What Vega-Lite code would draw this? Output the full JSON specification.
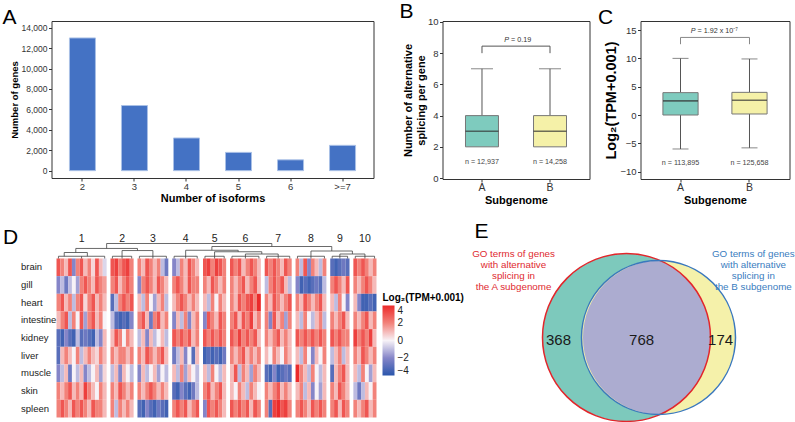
{
"$schema": "https://vega.github.io/schema/vega-lite/v6.json",
"padding": {"left": 1.5, "top": 0, "right": 0, "bottom": 0},
"background": "white",
"config": {
  "font": "Liberation Sans",
  "view": {"stroke": "#333", "strokeWidth": 1},
  "axis": {"grid": false, "domain": false, "tickSize": 3, "tickColor": "#333", "labelColor": "#333", "titleColor": "#000", "titleFontWeight": "bold", "labelPadding": 1.5, "titlePadding": 2, "labelOverlap": false},
  "title": {"fontSize": 21, "fontWeight": "normal", "anchor": "start", "frame": "bounds", "baseline": "alphabetic", "color": "#000"}
},
"spacing": 14.5,
"vconcat": [
{
"bounds": "flush",
"spacing": 69,
"hconcat": [
{
  "width": 322, "height": 157,
  "title": {"text": "A", "offset": -7, "dx": -6.5},
  "data": {"values": [
    {"iso": "2", "genes": 13000}, {"iso": "3", "genes": 6380}, {"iso": "4", "genes": 3200},
    {"iso": "5", "genes": 1790}, {"iso": "6", "genes": 1060}, {"iso": ">=7", "genes": 2480}
  ]},
  "mark": {"type": "bar", "fill": "#4472C4", "stroke": "#A9C0E6", "strokeWidth": 1},
  "encoding": {
    "x": {"field": "iso", "type": "ordinal", "sort": null, "scale": {"paddingInner": 0.5, "paddingOuter": 0.345},
          "axis": {"title": "Number of isoforms", "labelAngle": 0, "labelFontSize": 9.5, "labelPadding": 0.5, "titleFontSize": 11, "titlePadding": 1}},
    "y": {"field": "genes", "type": "quantitative", "scale": {"domain": [-720, 14660], "nice": false, "zero": false},
          "axis": {"title": "Number of genes", "values": [0, 2000, 4000, 6000, 8000, 10000, 12000, 14000], "format": ",.0f", "labelFontSize": 8.5, "titleFontSize": 9.5, "labelOverlap": false}}
  }
},
{
"bounds": "flush",
"spacing": 51,
"hconcat": [
{
  "width": 147, "height": 158,
  "title": {"text": "B", "offset": -5, "dx": -3},
  "resolve": {"axis": {"y": "independent"}},
  "data": {"values": [
    {"g": "A", "lo": 2, "q1": 2, "med": 3, "q3": 4, "hi": 7, "n": "n = 12,937"},
    {"g": "B", "lo": 2, "q1": 2, "med": 3, "q3": 4, "hi": 7, "n": "n = 14,258"}
  ]},
  "encoding": {
    "x": {"field": "g", "type": "nominal", "scale": {"domain": ["A", "B"], "paddingInner": 0.515, "paddingOuter": 0.338},
          "axis": {"title": "Subgenome", "labelAngle": 0, "labelFontSize": 10.5, "labelPadding": 0.5, "titleFontSize": 11, "titlePadding": 1}}
  },
  "layer": [
    {"mark": {"type": "rule", "color": "#555"}, "encoding": {"y": {"field": "hi", "type": "quantitative", "scale": {"domain": [-0.06, 10.06], "nice": false, "zero": false},
       "axis": {"title": ["Number of alternative", "splicing per gene"], "values": [0, 2, 4, 6, 8, 10], "labelOverlap": false, "labelFontSize": 9.5, "titleFontSize": 11, "titlePadding": 1}}, "y2": {"field": "q3"}}},
    {"mark": {"type": "rule", "color": "#555"}, "encoding": {"y": {"field": "q1", "type": "quantitative", "axis": null}, "y2": {"field": "lo"}}},
    {"mark": {"type": "tick", "color": "#555", "size": 22, "thickness": 1}, "encoding": {"y": {"field": "hi", "type": "quantitative", "axis": null}}},
    {"mark": {"type": "bar", "stroke": "#777", "strokeWidth": 1}, "encoding": {"y": {"field": "q1", "type": "quantitative", "axis": null}, "y2": {"field": "q3"},
       "color": {"field": "g", "type": "nominal", "scale": {"domain": ["A", "B"], "range": ["#7ECBBE", "#F5F1A8"]}, "legend": null}}},
    {"mark": {"type": "tick", "color": "#333", "size": 33, "thickness": 1.6}, "encoding": {"y": {"field": "med", "type": "quantitative", "axis": null}}},
    {"mark": {"type": "text", "fontSize": 7.2, "color": "#444"}, "encoding": {"y": {"datum": 1.0, "type": "quantitative", "axis": null}, "text": {"field": "n"}}},
    {"mark": {"type": "rule", "color": "#555"}, "encoding": {"y": {"datum": 8.45, "type": "quantitative", "axis": null}, "y2": {"datum": 8.0}}},
    {"data": {"values": [{"a": "A", "b": "B", "p": "P", "rest": "= 0.19"}]},
     "layer": [
      {"mark": {"type": "rule", "color": "#555"}, "encoding": {"x": {"field": "a", "type": "nominal", "bandPosition": 0.5}, "x2": {"field": "b", "bandPosition": 0.5}, "y": {"datum": 8.45, "type": "quantitative", "axis": null}}},
      {"mark": {"type": "text", "fontSize": 7.2, "fontStyle": "italic", "align": "right", "dx": 27, "color": "#333"}, "encoding": {"x": {"field": "a", "type": "nominal"}, "y": {"datum": 8.85, "type": "quantitative", "axis": null}, "text": {"field": "p"}}},
      {"mark": {"type": "text", "fontSize": 7.2, "align": "left", "dx": 29, "color": "#333"}, "encoding": {"x": {"field": "a", "type": "nominal"}, "y": {"datum": 8.85, "type": "quantitative", "axis": null}, "text": {"field": "rest"}}}
     ]}
  ]
},
{
  "width": 149, "height": 158,
  "title": {"text": "C", "offset": -7, "dx": -6},
  "resolve": {"axis": {"y": "independent"}},
  "data": {"values": [
    {"g": "A", "lo": -6.0, "q1": 0, "med": 2.5, "q3": 3.95, "hi": 10.0, "n": "n = 113,895"},
    {"g": "B", "lo": -5.8, "q1": 0.18, "med": 2.6, "q3": 4.0, "hi": 9.9, "n": "n = 125,658"}
  ]},
  "encoding": {
    "x": {"field": "g", "type": "nominal", "scale": {"domain": ["A", "B"], "paddingInner": 0.49, "paddingOuter": 0.325},
          "axis": {"title": "Subgenome", "labelAngle": 0, "labelFontSize": 10.5, "labelPadding": 0.5, "titleFontSize": 11, "titlePadding": 1}}
  },
  "layer": [
    {"mark": {"type": "rule", "color": "#555"}, "encoding": {"y": {"field": "hi", "type": "quantitative", "scale": {"domain": [-11.3, 16.6], "nice": false, "zero": false},
       "axis": {"title": "Log₂(TPM+0.001)", "values": [-10, -5, 0, 5, 10, 15], "labelOverlap": false, "labelFontSize": 9.5, "titleFontSize": 14.5, "titlePadding": 1}}, "y2": {"field": "q3"}}},
    {"mark": {"type": "rule", "color": "#555"}, "encoding": {"y": {"field": "q1", "type": "quantitative", "axis": null}, "y2": {"field": "lo"}}},
    {"mark": {"type": "tick", "color": "#555", "size": 16, "thickness": 1}, "encoding": {"y": {"field": "hi", "type": "quantitative", "axis": null}}},
    {"mark": {"type": "tick", "color": "#555", "size": 16, "thickness": 1}, "encoding": {"y": {"field": "lo", "type": "quantitative", "axis": null}}},
    {"mark": {"type": "bar", "stroke": "#777", "strokeWidth": 1}, "encoding": {"y": {"field": "q1", "type": "quantitative", "axis": null}, "y2": {"field": "q3"},
       "color": {"field": "g", "type": "nominal", "scale": {"domain": ["A", "B"], "range": ["#7ECBBE", "#F5F1A8"]}, "legend": null}}},
    {"mark": {"type": "tick", "color": "#333", "size": 35, "thickness": 1.6}, "encoding": {"y": {"field": "med", "type": "quantitative", "axis": null}}},
    {"mark": {"type": "text", "fontSize": 7.2, "color": "#444"}, "encoding": {"y": {"datum": -8.4, "type": "quantitative", "axis": null}, "text": {"field": "n"}}},
    {"mark": {"type": "rule", "color": "#888"}, "encoding": {"y": {"datum": 13.7, "type": "quantitative", "axis": null}, "y2": {"datum": 12.5}}},
    {"data": {"values": [{"a": "A", "b": "B", "p": "P", "rest": "= 1.92 x 10⁻⁷"}]},
     "layer": [
      {"mark": {"type": "rule", "color": "#888"}, "encoding": {"x": {"field": "a", "type": "nominal", "bandPosition": 0.5}, "x2": {"field": "b", "bandPosition": 0.5}, "y": {"datum": 13.7, "type": "quantitative", "axis": null}}},
      {"mark": {"type": "text", "fontSize": 7.2, "fontStyle": "italic", "align": "right", "dx": 15, "color": "#333"}, "encoding": {"x": {"field": "a", "type": "nominal"}, "y": {"datum": 14.8, "type": "quantitative", "axis": null}, "text": {"field": "p"}}},
      {"mark": {"type": "text", "fontSize": 7.2, "align": "left", "dx": 17, "color": "#333"}, "encoding": {"x": {"field": "a", "type": "nominal"}, "y": {"datum": 14.8, "type": "quantitative", "axis": null}, "text": {"field": "rest"}}}
     ]}
  ]
}
]
}
]
},
{
"bounds": "flush",
"spacing": 90,
"hconcat": [
{
  "width": 325, "height": 186,
  "view": {"stroke": null},
  "title": {"text": "D", "offset": -16, "dx": -17.5},
  "resolve": {"scale": {"x": "independent", "y": "independent"}},
  "layer": [
    {
      "data": {"values": [
{"c":"1a","t":"brain","v":3},{"c":"1b","t":"brain","v":2},{"c":"1c","t":"brain","v":1},{"c":"1d","t":"brain","v":3},{"c":"1e","t":"brain","v":-2},{"c":"1f","t":"brain","v":2},{"c":"1g","t":"brain","v":3},{"c":"1h","t":"brain","v":1},{"c":"1i","t":"brain","v":2},{"c":"1j","t":"brain","v":0.5},{"c":"1k","t":"brain","v":3},{"c":"1l","t":"brain","v":1},{"c":"1m","t":"brain","v":-0.5},
{"c":"1a","t":"gill","v":-2},{"c":"1b","t":"gill","v":-1},{"c":"1c","t":"gill","v":-2.5},{"c":"1d","t":"gill","v":-1},{"c":"1e","t":"gill","v":0},{"c":"1f","t":"gill","v":-1.5},{"c":"1g","t":"gill","v":2},{"c":"1h","t":"gill","v":3},{"c":"1i","t":"gill","v":2},{"c":"1j","t":"gill","v":1},{"c":"1k","t":"gill","v":3},{"c":"1l","t":"gill","v":2},{"c":"1m","t":"gill","v":1.5},
{"c":"1a","t":"heart","v":2},{"c":"1b","t":"heart","v":3},{"c":"1c","t":"heart","v":1},{"c":"1d","t":"heart","v":2},{"c":"1e","t":"heart","v":-1},{"c":"1f","t":"heart","v":2},{"c":"1g","t":"heart","v":3},{"c":"1h","t":"heart","v":0.5},{"c":"1i","t":"heart","v":2},{"c":"1j","t":"heart","v":3},{"c":"1k","t":"heart","v":1},{"c":"1l","t":"heart","v":2},{"c":"1m","t":"heart","v":1},
{"c":"1a","t":"intestine","v":1},{"c":"1b","t":"intestine","v":2},{"c":"1c","t":"intestine","v":3},{"c":"1d","t":"intestine","v":-1},{"c":"1e","t":"intestine","v":2},{"c":"1f","t":"intestine","v":0},{"c":"1g","t":"intestine","v":3},{"c":"1h","t":"intestine","v":-1.5},{"c":"1i","t":"intestine","v":2},{"c":"1j","t":"intestine","v":3},{"c":"1k","t":"intestine","v":1},{"c":"1l","t":"intestine","v":2},{"c":"1m","t":"intestine","v":0},
{"c":"1a","t":"kidney","v":-3},{"c":"1b","t":"kidney","v":-3.5},{"c":"1c","t":"kidney","v":-2},{"c":"1d","t":"kidney","v":-3},{"c":"1e","t":"kidney","v":-3.5},{"c":"1f","t":"kidney","v":-1},{"c":"1g","t":"kidney","v":-3},{"c":"1h","t":"kidney","v":-2.5},{"c":"1i","t":"kidney","v":-3},{"c":"1j","t":"kidney","v":-3.5},{"c":"1k","t":"kidney","v":-1},{"c":"1l","t":"kidney","v":-2},{"c":"1m","t":"kidney","v":1},
{"c":"1a","t":"liver","v":-3},{"c":"1b","t":"liver","v":1},{"c":"1c","t":"liver","v":2},{"c":"1d","t":"liver","v":1},{"c":"1e","t":"liver","v":0},{"c":"1f","t":"liver","v":2},{"c":"1g","t":"liver","v":-1},{"c":"1h","t":"liver","v":1},{"c":"1i","t":"liver","v":2},{"c":"1j","t":"liver","v":1},{"c":"1k","t":"liver","v":0.5},{"c":"1l","t":"liver","v":2},{"c":"1m","t":"liver","v":1},
{"c":"1a","t":"muscle","v":-2},{"c":"1b","t":"muscle","v":-1},{"c":"1c","t":"muscle","v":1},{"c":"1d","t":"muscle","v":-2.5},{"c":"1e","t":"muscle","v":0},{"c":"1f","t":"muscle","v":-1},{"c":"1g","t":"muscle","v":1},{"c":"1h","t":"muscle","v":-2},{"c":"1i","t":"muscle","v":-1},{"c":"1j","t":"muscle","v":0},{"c":"1k","t":"muscle","v":1},{"c":"1l","t":"muscle","v":-1.5},{"c":"1m","t":"muscle","v":0.5},
{"c":"1a","t":"skin","v":2},{"c":"1b","t":"skin","v":1},{"c":"1c","t":"skin","v":2},{"c":"1d","t":"skin","v":3},{"c":"1e","t":"skin","v":1},{"c":"1f","t":"skin","v":2},{"c":"1g","t":"skin","v":1},{"c":"1h","t":"skin","v":3.5},{"c":"1i","t":"skin","v":2},{"c":"1j","t":"skin","v":1},{"c":"1k","t":"skin","v":0},{"c":"1l","t":"skin","v":2},{"c":"1m","t":"skin","v":1},
{"c":"1a","t":"spleen","v":2},{"c":"1b","t":"spleen","v":3},{"c":"1c","t":"spleen","v":2},{"c":"1d","t":"spleen","v":1},{"c":"1e","t":"spleen","v":3},{"c":"1f","t":"spleen","v":2},{"c":"1g","t":"spleen","v":3},{"c":"1h","t":"spleen","v":2},{"c":"1i","t":"spleen","v":1},{"c":"1j","t":"spleen","v":3},{"c":"1k","t":"spleen","v":2},{"c":"1l","t":"spleen","v":2},{"c":"1m","t":"spleen","v":1},
{"c":"2a","t":"brain","v":3},{"c":"2b","t":"brain","v":3.5},{"c":"2c","t":"brain","v":2},{"c":"2d","t":"brain","v":3},{"c":"2e","t":"brain","v":3.5},{"c":"2f","t":"brain","v":2},
{"c":"2a","t":"gill","v":2},{"c":"2b","t":"gill","v":3},{"c":"2c","t":"gill","v":1},{"c":"2d","t":"gill","v":2},{"c":"2e","t":"gill","v":3},{"c":"2f","t":"gill","v":2},
{"c":"2a","t":"heart","v":-3},{"c":"2b","t":"heart","v":-1},{"c":"2c","t":"heart","v":2},{"c":"2d","t":"heart","v":3},{"c":"2e","t":"heart","v":2},{"c":"2f","t":"heart","v":3},
{"c":"2a","t":"intestine","v":-1},{"c":"2b","t":"intestine","v":-3},{"c":"2c","t":"intestine","v":-3.5},{"c":"2d","t":"intestine","v":-3},{"c":"2e","t":"intestine","v":-3.5},{"c":"2f","t":"intestine","v":-2},
{"c":"2a","t":"kidney","v":1},{"c":"2b","t":"kidney","v":3},{"c":"2c","t":"kidney","v":2},{"c":"2d","t":"kidney","v":0},{"c":"2e","t":"kidney","v":2},{"c":"2f","t":"kidney","v":1},
{"c":"2a","t":"liver","v":2},{"c":"2b","t":"liver","v":1},{"c":"2c","t":"liver","v":2},{"c":"2d","t":"liver","v":2},{"c":"2e","t":"liver","v":1},{"c":"2f","t":"liver","v":2},
{"c":"2a","t":"muscle","v":-1},{"c":"2b","t":"muscle","v":1},{"c":"2c","t":"muscle","v":-2},{"c":"2d","t":"muscle","v":1},{"c":"2e","t":"muscle","v":0},{"c":"2f","t":"muscle","v":-1},
{"c":"2a","t":"skin","v":2},{"c":"2b","t":"skin","v":1},{"c":"2c","t":"skin","v":3},{"c":"2d","t":"skin","v":2},{"c":"2e","t":"skin","v":1},{"c":"2f","t":"skin","v":2},
{"c":"2a","t":"spleen","v":2},{"c":"2b","t":"spleen","v":-1},{"c":"2c","t":"spleen","v":2},{"c":"2d","t":"spleen","v":1},{"c":"2e","t":"spleen","v":2},{"c":"2f","t":"spleen","v":1},
{"c":"3a","t":"brain","v":2},{"c":"3b","t":"brain","v":1},{"c":"3c","t":"brain","v":3},{"c":"3d","t":"brain","v":2},{"c":"3e","t":"brain","v":1},{"c":"3f","t":"brain","v":2},{"c":"3g","t":"brain","v":-1},{"c":"3h","t":"brain","v":-2.5},
{"c":"3a","t":"gill","v":-2},{"c":"3b","t":"gill","v":2},{"c":"3c","t":"gill","v":3},{"c":"3d","t":"gill","v":2},{"c":"3e","t":"gill","v":1},{"c":"3f","t":"gill","v":3},{"c":"3g","t":"gill","v":2},{"c":"3h","t":"gill","v":1},
{"c":"3a","t":"heart","v":1},{"c":"3b","t":"heart","v":-1},{"c":"3c","t":"heart","v":2},{"c":"3d","t":"heart","v":0},{"c":"3e","t":"heart","v":-1.5},{"c":"3f","t":"heart","v":1},{"c":"3g","t":"heart","v":2},{"c":"3h","t":"heart","v":-1},
{"c":"3a","t":"intestine","v":2},{"c":"3b","t":"intestine","v":3},{"c":"3c","t":"intestine","v":1},{"c":"3d","t":"intestine","v":-2.5},{"c":"3e","t":"intestine","v":2},{"c":"3f","t":"intestine","v":3},{"c":"3g","t":"intestine","v":1},{"c":"3h","t":"intestine","v":2},
{"c":"3a","t":"kidney","v":-1},{"c":"3b","t":"kidney","v":1},{"c":"3c","t":"kidney","v":-2},{"c":"3d","t":"kidney","v":1},{"c":"3e","t":"kidney","v":-1},{"c":"3f","t":"kidney","v":0},{"c":"3g","t":"kidney","v":1},{"c":"3h","t":"kidney","v":-1},
{"c":"3a","t":"liver","v":2},{"c":"3b","t":"liver","v":1},{"c":"3c","t":"liver","v":3},{"c":"3d","t":"liver","v":2},{"c":"3e","t":"liver","v":1},{"c":"3f","t":"liver","v":2},{"c":"3g","t":"liver","v":3},{"c":"3h","t":"liver","v":1},
{"c":"3a","t":"muscle","v":-2},{"c":"3b","t":"muscle","v":1},{"c":"3c","t":"muscle","v":-1},{"c":"3d","t":"muscle","v":0},{"c":"3e","t":"muscle","v":1},{"c":"3f","t":"muscle","v":-1.5},{"c":"3g","t":"muscle","v":0},{"c":"3h","t":"muscle","v":-1},
{"c":"3a","t":"skin","v":2},{"c":"3b","t":"skin","v":1},{"c":"3c","t":"skin","v":2},{"c":"3d","t":"skin","v":3},{"c":"3e","t":"skin","v":2},{"c":"3f","t":"skin","v":1},{"c":"3g","t":"skin","v":2},{"c":"3h","t":"skin","v":1},
{"c":"3a","t":"spleen","v":-3},{"c":"3b","t":"spleen","v":-3.5},{"c":"3c","t":"spleen","v":-2},{"c":"3d","t":"spleen","v":-3},{"c":"3e","t":"spleen","v":-3.5},{"c":"3f","t":"spleen","v":-2.5},{"c":"3g","t":"spleen","v":-3},{"c":"3h","t":"spleen","v":-3.5},
{"c":"4a","t":"brain","v":-2},{"c":"4b","t":"brain","v":-1},{"c":"4c","t":"brain","v":2},{"c":"4d","t":"brain","v":1},{"c":"4e","t":"brain","v":3},{"c":"4f","t":"brain","v":2},{"c":"4g","t":"brain","v":1},
{"c":"4a","t":"gill","v":2},{"c":"4b","t":"gill","v":3},{"c":"4c","t":"gill","v":2},{"c":"4d","t":"gill","v":1},{"c":"4e","t":"gill","v":3},{"c":"4f","t":"gill","v":2},{"c":"4g","t":"gill","v":2},
{"c":"4a","t":"heart","v":1},{"c":"4b","t":"heart","v":2},{"c":"4c","t":"heart","v":3},{"c":"4d","t":"heart","v":2},{"c":"4e","t":"heart","v":1},{"c":"4f","t":"heart","v":2},{"c":"4g","t":"heart","v":1},
{"c":"4a","t":"intestine","v":-2},{"c":"4b","t":"intestine","v":1},{"c":"4c","t":"intestine","v":-1},{"c":"4d","t":"intestine","v":2},{"c":"4e","t":"intestine","v":-2},{"c":"4f","t":"intestine","v":1},{"c":"4g","t":"intestine","v":2},
{"c":"4a","t":"kidney","v":3},{"c":"4b","t":"kidney","v":2},{"c":"4c","t":"kidney","v":3},{"c":"4d","t":"kidney","v":2},{"c":"4e","t":"kidney","v":3},{"c":"4f","t":"kidney","v":1},{"c":"4g","t":"kidney","v":2},
{"c":"4a","t":"liver","v":-2.5},{"c":"4b","t":"liver","v":-1},{"c":"4c","t":"liver","v":1},{"c":"4d","t":"liver","v":-2},{"c":"4e","t":"liver","v":0},{"c":"4f","t":"liver","v":-3},{"c":"4g","t":"liver","v":1},
{"c":"4a","t":"muscle","v":1},{"c":"4b","t":"muscle","v":-1},{"c":"4c","t":"muscle","v":2},{"c":"4d","t":"muscle","v":-1.5},{"c":"4e","t":"muscle","v":1},{"c":"4f","t":"muscle","v":0},{"c":"4g","t":"muscle","v":-1},
{"c":"4a","t":"skin","v":-3},{"c":"4b","t":"skin","v":-3.5},{"c":"4c","t":"skin","v":-2},{"c":"4d","t":"skin","v":-3},{"c":"4e","t":"skin","v":-3.5},{"c":"4f","t":"skin","v":-2.5},{"c":"4g","t":"skin","v":-1},
{"c":"4a","t":"spleen","v":2},{"c":"4b","t":"spleen","v":3},{"c":"4c","t":"spleen","v":2},{"c":"4d","t":"spleen","v":3},{"c":"4e","t":"spleen","v":1},{"c":"4f","t":"spleen","v":2},{"c":"4g","t":"spleen","v":3},
{"c":"5a","t":"brain","v":3},{"c":"5b","t":"brain","v":3.5},{"c":"5c","t":"brain","v":2},{"c":"5d","t":"brain","v":3.5},{"c":"5e","t":"brain","v":3},{"c":"5f","t":"brain","v":2},
{"c":"5a","t":"gill","v":2},{"c":"5b","t":"gill","v":1},{"c":"5c","t":"gill","v":3},{"c":"5d","t":"gill","v":2},{"c":"5e","t":"gill","v":1},{"c":"5f","t":"gill","v":2},
{"c":"5a","t":"heart","v":1},{"c":"5b","t":"heart","v":-1},{"c":"5c","t":"heart","v":2},{"c":"5d","t":"heart","v":0},{"c":"5e","t":"heart","v":2},{"c":"5f","t":"heart","v":1},
{"c":"5a","t":"intestine","v":-2},{"c":"5b","t":"intestine","v":3},{"c":"5c","t":"intestine","v":2},{"c":"5d","t":"intestine","v":1},{"c":"5e","t":"intestine","v":3},{"c":"5f","t":"intestine","v":2},
{"c":"5a","t":"kidney","v":3},{"c":"5b","t":"kidney","v":2},{"c":"5c","t":"kidney","v":3},{"c":"5d","t":"kidney","v":2},{"c":"5e","t":"kidney","v":3},{"c":"5f","t":"kidney","v":2},
{"c":"5a","t":"liver","v":-3.5},{"c":"5b","t":"liver","v":-3},{"c":"5c","t":"liver","v":-3.5},{"c":"5d","t":"liver","v":-3},{"c":"5e","t":"liver","v":-3.5},{"c":"5f","t":"liver","v":-2.5},
{"c":"5a","t":"muscle","v":1},{"c":"5b","t":"muscle","v":-1},{"c":"5c","t":"muscle","v":2},{"c":"5d","t":"muscle","v":0},{"c":"5e","t":"muscle","v":-1},{"c":"5f","t":"muscle","v":1},
{"c":"5a","t":"skin","v":2},{"c":"5b","t":"skin","v":3},{"c":"5c","t":"skin","v":1},{"c":"5d","t":"skin","v":2},{"c":"5e","t":"skin","v":3},{"c":"5f","t":"skin","v":1},
{"c":"5a","t":"spleen","v":-2},{"c":"5b","t":"spleen","v":3},{"c":"5c","t":"spleen","v":2},{"c":"5d","t":"spleen","v":3},{"c":"5e","t":"spleen","v":2},{"c":"5f","t":"spleen","v":1},
{"c":"6a","t":"brain","v":3},{"c":"6b","t":"brain","v":2},{"c":"6c","t":"brain","v":3},{"c":"6d","t":"brain","v":1},{"c":"6e","t":"brain","v":2},{"c":"6f","t":"brain","v":3},{"c":"6g","t":"brain","v":2},{"c":"6h","t":"brain","v":1},
{"c":"6a","t":"gill","v":2},{"c":"6b","t":"gill","v":1},{"c":"6c","t":"gill","v":2},{"c":"6d","t":"gill","v":3},{"c":"6e","t":"gill","v":1},{"c":"6f","t":"gill","v":2},{"c":"6g","t":"gill","v":3},{"c":"6h","t":"gill","v":1},
{"c":"6a","t":"heart","v":2},{"c":"6b","t":"heart","v":1},{"c":"6c","t":"heart","v":3},{"c":"6d","t":"heart","v":2},{"c":"6e","t":"heart","v":3},{"c":"6f","t":"heart","v":3.5},{"c":"6g","t":"heart","v":2},{"c":"6h","t":"heart","v":4},
{"c":"6a","t":"intestine","v":2},{"c":"6b","t":"intestine","v":3},{"c":"6c","t":"intestine","v":1},{"c":"6d","t":"intestine","v":3},{"c":"6e","t":"intestine","v":2},{"c":"6f","t":"intestine","v":3.5},{"c":"6g","t":"intestine","v":1},{"c":"6h","t":"intestine","v":2},
{"c":"6a","t":"kidney","v":3},{"c":"6b","t":"kidney","v":2},{"c":"6c","t":"kidney","v":3.5},{"c":"6d","t":"kidney","v":2},{"c":"6e","t":"kidney","v":3},{"c":"6f","t":"kidney","v":2},{"c":"6g","t":"kidney","v":3},{"c":"6h","t":"kidney","v":1},
{"c":"6a","t":"liver","v":2},{"c":"6b","t":"liver","v":1},{"c":"6c","t":"liver","v":2},{"c":"6d","t":"liver","v":3},{"c":"6e","t":"liver","v":1},{"c":"6f","t":"liver","v":2},{"c":"6g","t":"liver","v":1},{"c":"6h","t":"liver","v":2},
{"c":"6a","t":"muscle","v":1},{"c":"6b","t":"muscle","v":3},{"c":"6c","t":"muscle","v":-1},{"c":"6d","t":"muscle","v":2},{"c":"6e","t":"muscle","v":1},{"c":"6f","t":"muscle","v":-1.5},{"c":"6g","t":"muscle","v":2},{"c":"6h","t":"muscle","v":1},
{"c":"6a","t":"skin","v":1},{"c":"6b","t":"skin","v":0},{"c":"6c","t":"skin","v":2},{"c":"6d","t":"skin","v":1},{"c":"6e","t":"skin","v":-1},{"c":"6f","t":"skin","v":2},{"c":"6g","t":"skin","v":1},{"c":"6h","t":"skin","v":0},
{"c":"6a","t":"spleen","v":3},{"c":"6b","t":"spleen","v":2},{"c":"6c","t":"spleen","v":3},{"c":"6d","t":"spleen","v":2},{"c":"6e","t":"spleen","v":3},{"c":"6f","t":"spleen","v":1},{"c":"6g","t":"spleen","v":3},{"c":"6h","t":"spleen","v":2},
{"c":"7a","t":"brain","v":3},{"c":"7b","t":"brain","v":2},{"c":"7c","t":"brain","v":3},{"c":"7d","t":"brain","v":2},{"c":"7e","t":"brain","v":1},{"c":"7f","t":"brain","v":3},{"c":"7g","t":"brain","v":2},
{"c":"7a","t":"gill","v":-1},{"c":"7b","t":"gill","v":2},{"c":"7c","t":"gill","v":3},{"c":"7d","t":"gill","v":2},{"c":"7e","t":"gill","v":3},{"c":"7f","t":"gill","v":1},{"c":"7g","t":"gill","v":-1},
{"c":"7a","t":"heart","v":2},{"c":"7b","t":"heart","v":1},{"c":"7c","t":"heart","v":3},{"c":"7d","t":"heart","v":2},{"c":"7e","t":"heart","v":1},{"c":"7f","t":"heart","v":2},{"c":"7g","t":"heart","v":3},
{"c":"7a","t":"intestine","v":2},{"c":"7b","t":"intestine","v":-2},{"c":"7c","t":"intestine","v":3},{"c":"7d","t":"intestine","v":1},{"c":"7e","t":"intestine","v":2},{"c":"7f","t":"intestine","v":-1.5},{"c":"7g","t":"intestine","v":2},
{"c":"7a","t":"kidney","v":2},{"c":"7b","t":"kidney","v":1},{"c":"7c","t":"kidney","v":2},{"c":"7d","t":"kidney","v":3},{"c":"7e","t":"kidney","v":1},{"c":"7f","t":"kidney","v":2},{"c":"7g","t":"kidney","v":1},
{"c":"7a","t":"liver","v":1},{"c":"7b","t":"liver","v":0},{"c":"7c","t":"liver","v":2},{"c":"7d","t":"liver","v":1},{"c":"7e","t":"liver","v":0},{"c":"7f","t":"liver","v":2},{"c":"7g","t":"liver","v":1},
{"c":"7a","t":"muscle","v":-3},{"c":"7b","t":"muscle","v":-3.5},{"c":"7c","t":"muscle","v":-2},{"c":"7d","t":"muscle","v":-3.5},{"c":"7e","t":"muscle","v":-3},{"c":"7f","t":"muscle","v":-2.5},{"c":"7g","t":"muscle","v":-3},
{"c":"7a","t":"skin","v":2},{"c":"7b","t":"skin","v":1},{"c":"7c","t":"skin","v":2},{"c":"7d","t":"skin","v":3},{"c":"7e","t":"skin","v":1},{"c":"7f","t":"skin","v":2},{"c":"7g","t":"skin","v":1},
{"c":"7a","t":"spleen","v":2},{"c":"7b","t":"spleen","v":-3},{"c":"7c","t":"spleen","v":3.5},{"c":"7d","t":"spleen","v":4},{"c":"7e","t":"spleen","v":3},{"c":"7f","t":"spleen","v":3.5},{"c":"7g","t":"spleen","v":2},
{"c":"8a","t":"brain","v":2},{"c":"8b","t":"brain","v":-1},{"c":"8c","t":"brain","v":3},{"c":"8d","t":"brain","v":-2},{"c":"8e","t":"brain","v":2},{"c":"8f","t":"brain","v":1},{"c":"8g","t":"brain","v":-1},{"c":"8h","t":"brain","v":2},
{"c":"8a","t":"gill","v":-2},{"c":"8b","t":"gill","v":-3.5},{"c":"8c","t":"gill","v":-3},{"c":"8d","t":"gill","v":-3.5},{"c":"8e","t":"gill","v":-3},{"c":"8f","t":"gill","v":-2.5},{"c":"8g","t":"gill","v":-3},{"c":"8h","t":"gill","v":-1},
{"c":"8a","t":"heart","v":2},{"c":"8b","t":"heart","v":1},{"c":"8c","t":"heart","v":3},{"c":"8d","t":"heart","v":2},{"c":"8e","t":"heart","v":1},{"c":"8f","t":"heart","v":2},{"c":"8g","t":"heart","v":3},{"c":"8h","t":"heart","v":1},
{"c":"8a","t":"intestine","v":1},{"c":"8b","t":"intestine","v":-1},{"c":"8c","t":"intestine","v":2},{"c":"8d","t":"intestine","v":0},{"c":"8e","t":"intestine","v":-1},{"c":"8f","t":"intestine","v":1},{"c":"8g","t":"intestine","v":2},{"c":"8h","t":"intestine","v":-1},
{"c":"8a","t":"kidney","v":3},{"c":"8b","t":"kidney","v":2},{"c":"8c","t":"kidney","v":3},{"c":"8d","t":"kidney","v":2},{"c":"8e","t":"kidney","v":3},{"c":"8f","t":"kidney","v":2},{"c":"8g","t":"kidney","v":3},{"c":"8h","t":"kidney","v":2},
{"c":"8a","t":"liver","v":1},{"c":"8b","t":"liver","v":-1},{"c":"8c","t":"liver","v":2},{"c":"8d","t":"liver","v":0},{"c":"8e","t":"liver","v":-2},{"c":"8f","t":"liver","v":1},{"c":"8g","t":"liver","v":0},{"c":"8h","t":"liver","v":2},
{"c":"8a","t":"muscle","v":4},{"c":"8b","t":"muscle","v":2},{"c":"8c","t":"muscle","v":1},{"c":"8d","t":"muscle","v":-1},{"c":"8e","t":"muscle","v":2},{"c":"8f","t":"muscle","v":0},{"c":"8g","t":"muscle","v":-1},{"c":"8h","t":"muscle","v":1},
{"c":"8a","t":"skin","v":1},{"c":"8b","t":"skin","v":2},{"c":"8c","t":"skin","v":-1},{"c":"8d","t":"skin","v":1},{"c":"8e","t":"skin","v":-2},{"c":"8f","t":"skin","v":0},{"c":"8g","t":"skin","v":-1.5},{"c":"8h","t":"skin","v":1},
{"c":"8a","t":"spleen","v":2},{"c":"8b","t":"spleen","v":3},{"c":"8c","t":"spleen","v":2},{"c":"8d","t":"spleen","v":1},{"c":"8e","t":"spleen","v":3},{"c":"8f","t":"spleen","v":2},{"c":"8g","t":"spleen","v":3},{"c":"8h","t":"spleen","v":2},
{"c":"9a","t":"brain","v":-3},{"c":"9b","t":"brain","v":-3.5},{"c":"9c","t":"brain","v":-3},{"c":"9d","t":"brain","v":-2.5},{"c":"9e","t":"brain","v":-3},
{"c":"9a","t":"gill","v":2},{"c":"9b","t":"gill","v":3},{"c":"9c","t":"gill","v":2},{"c":"9d","t":"gill","v":1},{"c":"9e","t":"gill","v":3},
{"c":"9a","t":"heart","v":1},{"c":"9b","t":"heart","v":-1},{"c":"9c","t":"heart","v":2},{"c":"9d","t":"heart","v":0},{"c":"9e","t":"heart","v":-2},
{"c":"9a","t":"intestine","v":2},{"c":"9b","t":"intestine","v":1},{"c":"9c","t":"intestine","v":2},{"c":"9d","t":"intestine","v":3},{"c":"9e","t":"intestine","v":1},
{"c":"9a","t":"kidney","v":3},{"c":"9b","t":"kidney","v":2},{"c":"9c","t":"kidney","v":3},{"c":"9d","t":"kidney","v":2},{"c":"9e","t":"kidney","v":2},
{"c":"9a","t":"liver","v":-1},{"c":"9b","t":"liver","v":1},{"c":"9c","t":"liver","v":2},{"c":"9d","t":"liver","v":-1},{"c":"9e","t":"liver","v":1},
{"c":"9a","t":"muscle","v":-3},{"c":"9b","t":"muscle","v":1},{"c":"9c","t":"muscle","v":2},{"c":"9d","t":"muscle","v":3},{"c":"9e","t":"muscle","v":1},
{"c":"9a","t":"skin","v":2},{"c":"9b","t":"skin","v":1},{"c":"9c","t":"skin","v":3},{"c":"9d","t":"skin","v":2},{"c":"9e","t":"skin","v":1},
{"c":"9a","t":"spleen","v":2},{"c":"9b","t":"spleen","v":3},{"c":"9c","t":"spleen","v":1},{"c":"9d","t":"spleen","v":3},{"c":"9e","t":"spleen","v":2},
{"c":"10a","t":"brain","v":3},{"c":"10b","t":"brain","v":2},{"c":"10c","t":"brain","v":3},{"c":"10d","t":"brain","v":2},{"c":"10e","t":"brain","v":1},{"c":"10f","t":"brain","v":2},
{"c":"10a","t":"gill","v":2},{"c":"10b","t":"gill","v":1},{"c":"10c","t":"gill","v":2},{"c":"10d","t":"gill","v":3},{"c":"10e","t":"gill","v":2},{"c":"10f","t":"gill","v":1},
{"c":"10a","t":"heart","v":1},{"c":"10b","t":"heart","v":-2},{"c":"10c","t":"heart","v":-3.5},{"c":"10d","t":"heart","v":-3.5},{"c":"10e","t":"heart","v":-3},{"c":"10f","t":"heart","v":-3.5},
{"c":"10a","t":"intestine","v":2},{"c":"10b","t":"intestine","v":1},{"c":"10c","t":"intestine","v":2},{"c":"10d","t":"intestine","v":3},{"c":"10e","t":"intestine","v":1},{"c":"10f","t":"intestine","v":2},
{"c":"10a","t":"kidney","v":3.5},{"c":"10b","t":"kidney","v":2},{"c":"10c","t":"kidney","v":3},{"c":"10d","t":"kidney","v":2},{"c":"10e","t":"kidney","v":3.5},{"c":"10f","t":"kidney","v":1},
{"c":"10a","t":"liver","v":2},{"c":"10b","t":"liver","v":1},{"c":"10c","t":"liver","v":3},{"c":"10d","t":"liver","v":2},{"c":"10e","t":"liver","v":1},{"c":"10f","t":"liver","v":2},
{"c":"10a","t":"muscle","v":1},{"c":"10b","t":"muscle","v":-1},{"c":"10c","t":"muscle","v":2},{"c":"10d","t":"muscle","v":0},{"c":"10e","t":"muscle","v":-1.5},{"c":"10f","t":"muscle","v":1},
{"c":"10a","t":"skin","v":-1},{"c":"10b","t":"skin","v":-2.5},{"c":"10c","t":"skin","v":-1},{"c":"10d","t":"skin","v":1},{"c":"10e","t":"skin","v":0},{"c":"10f","t":"skin","v":2},
{"c":"10a","t":"spleen","v":2},{"c":"10b","t":"spleen","v":1},{"c":"10c","t":"spleen","v":2},{"c":"10d","t":"spleen","v":3},{"c":"10e","t":"spleen","v":1},{"c":"10f","t":"spleen","v":2}
      ]},
      "mark": {"type": "rect"},
      "encoding": {
        "x": {"field": "c", "type": "ordinal", "axis": null, "scale": {"paddingInner": 0, "paddingOuter": 0.65, "align": 1, "domain": [
          "1a","1b","1c","1d","1e","1f","1g","1h","1i","1j","1k","1l","1m","g1",
          "2a","2b","2c","2d","2e","2f","g2",
          "3a","3b","3c","3d","3e","3f","3g","3h","g3",
          "4a","4b","4c","4d","4e","4f","4g","g4",
          "5a","5b","5c","5d","5e","5f","g5",
          "6a","6b","6c","6d","6e","6f","6g","6h","g6",
          "7a","7b","7c","7d","7e","7f","7g","g7",
          "8a","8b","8c","8d","8e","8f","8g","8h","g8",
          "9a","9b","9c","9d","9e","g9",
          "10a","10b","10c","10d","10e","10f"]}},
        "y": {"field": "t", "type": "nominal",
              "scale": {"domain": ["brain","gill","heart","intestine","kidney","liver","muscle","skin","spleen"], "paddingInner": 0, "paddingOuter": 0.763, "align": 1},
              "axis": {"title": null, "ticks": false, "labelAlign": "left", "labelPadding": 31, "labelFontSize": 9.5, "labelColor": "#222"}},
        "color": {"field": "v", "type": "quantitative",
                  "scale": {"domain": [-4, -2, 0, 2, 4], "range": ["#2A56AC", "#8585C8", "#F7F2F7", "#F2827A", "#EB2A2A"], "interpolate": "rgb", "clamp": true},
                  "legend": {"title": "Log₂(TPM+0.001)", "orient": "none", "legendX": 331, "legendY": 61, "direction": "vertical", "gradientLength": 70, "gradientThickness": 12,
                             "values": [4, 2, 0, -2, -4], "titleFontSize": 10, "titleFontWeight": "bold", "titleColor": "#000", "labelFontSize": 10, "labelColor": "#222", "titlePadding": 3, "labelOffset": 3}}
      }
    },
    {
      "data": {"values": [
        {"x": 13, "x2": 55.85, "h": 1, "h2": 1},
        {"x": 13, "x2": 13, "h": 1, "h2": 0.67},
        {"x": 5, "x2": 21, "h": 0.67, "h2": 0.67},
        {"x": 5, "x2": 5, "h": 0.67, "h2": 0.4},
        {"x": 2, "x2": 8, "h": 0.4, "h2": 0.4},
        {"x": 2, "x2": 2, "h": 0.4, "h2": 0.15},
        {"x": 8, "x2": 8, "h": 0.4, "h2": 0.15},
        {"x": 21, "x2": 21, "h": 0.67, "h2": 0.53},
        {"x": 17, "x2": 25, "h": 0.53, "h2": 0.53},
        {"x": 17, "x2": 17, "h": 0.53, "h2": 0},
        {"x": 25, "x2": 25, "h": 0.53, "h2": 0},
        {"x": 55.85, "x2": 55.85, "h": 1, "h2": 0.8},
        {"x": 40.3, "x2": 71.4, "h": 0.8, "h2": 0.8},
        {"x": 40.3, "x2": 40.3, "h": 0.8, "h2": 0.55},
        {"x": 33.5, "x2": 47.125, "h": 0.55, "h2": 0.55},
        {"x": 33.5, "x2": 33.5, "h": 0.55, "h2": 0},
        {"x": 47.125, "x2": 47.125, "h": 0.55, "h2": 0.45},
        {"x": 41, "x2": 53.25, "h": 0.45, "h2": 0.45},
        {"x": 41, "x2": 41, "h": 0.45, "h2": 0},
        {"x": 53.25, "x2": 53.25, "h": 0.45, "h2": 0.3},
        {"x": 49, "x2": 57.5, "h": 0.3, "h2": 0.3},
        {"x": 49, "x2": 49, "h": 0.3, "h2": 0},
        {"x": 57.5, "x2": 57.5, "h": 0.3, "h2": 0},
        {"x": 71.4, "x2": 71.4, "h": 0.8, "h2": 0.5},
        {"x": 66, "x2": 76.75, "h": 0.5, "h2": 0.5},
        {"x": 66, "x2": 66, "h": 0.5, "h2": 0},
        {"x": 76.75, "x2": 76.75, "h": 0.5, "h2": 0.3},
        {"x": 73.5, "x2": 80, "h": 0.3, "h2": 0.3},
        {"x": 73.5, "x2": 73.5, "h": 0.3, "h2": 0},
        {"x": 80, "x2": 80, "h": 0.3, "h2": 0},
        {"x": 0.5, "x2": 12.5, "h": 0.15, "h2": 0.15}, {"x": 0.5, "x2": 0.5, "h": 0.15, "h2": 0}, {"x": 12.5, "x2": 12.5, "h": 0.15, "h2": 0}, {"x": 6.5, "x2": 6.5, "h": 0.15, "h2": 0},
        {"x": 14.5, "x2": 19.5, "h": 0.15, "h2": 0.15}, {"x": 14.5, "x2": 14.5, "h": 0.15, "h2": 0}, {"x": 19.5, "x2": 19.5, "h": 0.15, "h2": 0},
        {"x": 21.5, "x2": 28.5, "h": 0.15, "h2": 0.15}, {"x": 21.5, "x2": 21.5, "h": 0.15, "h2": 0}, {"x": 28.5, "x2": 28.5, "h": 0.15, "h2": 0},
        {"x": 30.5, "x2": 36.5, "h": 0.15, "h2": 0.15}, {"x": 30.5, "x2": 30.5, "h": 0.15, "h2": 0}, {"x": 36.5, "x2": 36.5, "h": 0.15, "h2": 0},
        {"x": 38.5, "x2": 43.5, "h": 0.15, "h2": 0.15}, {"x": 38.5, "x2": 38.5, "h": 0.15, "h2": 0}, {"x": 43.5, "x2": 43.5, "h": 0.15, "h2": 0},
        {"x": 45.5, "x2": 52.5, "h": 0.15, "h2": 0.15}, {"x": 45.5, "x2": 45.5, "h": 0.15, "h2": 0}, {"x": 52.5, "x2": 52.5, "h": 0.15, "h2": 0},
        {"x": 54.5, "x2": 60.5, "h": 0.15, "h2": 0.15}, {"x": 54.5, "x2": 54.5, "h": 0.15, "h2": 0}, {"x": 60.5, "x2": 60.5, "h": 0.15, "h2": 0},
        {"x": 62.5, "x2": 69.5, "h": 0.15, "h2": 0.15}, {"x": 62.5, "x2": 62.5, "h": 0.15, "h2": 0}, {"x": 69.5, "x2": 69.5, "h": 0.15, "h2": 0},
        {"x": 71.5, "x2": 75.5, "h": 0.15, "h2": 0.15}, {"x": 71.5, "x2": 71.5, "h": 0.15, "h2": 0}, {"x": 75.5, "x2": 75.5, "h": 0.15, "h2": 0},
        {"x": 77.5, "x2": 82.5, "h": 0.15, "h2": 0.15}, {"x": 77.5, "x2": 77.5, "h": 0.15, "h2": 0}, {"x": 82.5, "x2": 82.5, "h": 0.15, "h2": 0}
      ]},
      "mark": {"type": "rule", "color": "#444", "strokeWidth": 0.8},
      "encoding": {
        "x": {"field": "x", "type": "quantitative", "scale": {"domain": [-1.3, 83], "nice": false, "zero": false}, "axis": null},
        "x2": {"field": "x2"},
        "y": {"field": "h", "type": "quantitative", "scale": {"domain": [-10.6, 1.8], "nice": false, "zero": false}, "axis": null},
        "y2": {"field": "h2"}
      }
    },
    {
      "data": {"values": [
        {"k": "1", "cx": 6.5}, {"k": "2", "cx": 17}, {"k": "3", "cx": 25}, {"k": "4", "cx": 33.5}, {"k": "5", "cx": 41},
        {"k": "6", "cx": 49}, {"k": "7", "cx": 57.5}, {"k": "8", "cx": 66}, {"k": "9", "cx": 73.5}, {"k": "10", "cx": 80}
      ]},
      "mark": {"type": "text", "fontSize": 10.5, "color": "#222", "baseline": "middle"},
      "encoding": {
        "x": {"field": "cx", "type": "quantitative", "scale": {"domain": [-1.3, 83], "nice": false, "zero": false}, "axis": null},
        "y": {"datum": 1.33, "type": "quantitative", "scale": {"domain": [-10.6, 1.8], "nice": false, "zero": false}, "axis": null},
        "text": {"field": "k"}
      }
    }
  ]
},
{
  "width": 330, "height": 191,
  "view": {"stroke": null},
  "title": {"text": "E", "offset": -10, "dx": 8},
  "encoding": {
    "x": {"field": "x", "type": "quantitative", "scale": {"domain": [-1.905, 2.024], "nice": false, "zero": false}, "axis": null},
    "y": {"field": "y", "type": "quantitative", "scale": {"domain": [-1.012, 1.262], "nice": false, "zero": false}, "axis": null}
  },
  "layer": [
    {"data": {"values": [{"set": "A", "x": 0, "y": 0}]}, "mark": {"type": "point", "shape": "circle", "size": 28224, "filled": true, "fill": "#7DC9BC", "opacity": 1, "strokeWidth": 0}},
    {"data": {"values": [{"set": "B", "x": 0.381, "y": 0}]}, "mark": {"type": "point", "shape": "circle", "size": 23716, "filled": true, "fill": "#F5F1AA", "opacity": 1, "strokeWidth": 0}},
    {"data": {"values": [{"set": "A∩B", "x": 0, "y": 0}]}, "mark": {"type": "point", "shape": "M 0.399 -0.917 A 0.917 0.917 0 1 0 0.399 0.917 A 1 1 0 0 0 0.399 -0.917 Z", "size": 28224, "filled": true, "fill": "#ACACD0", "opacity": 1, "strokeWidth": 0}},
    {"data": {"values": [{"set": "A", "x": 0, "y": 0}]}, "mark": {"type": "point", "shape": "circle", "size": 28224, "filled": false, "stroke": "#E3262B", "strokeWidth": 1.5, "opacity": 1}},
    {"data": {"values": [{"set": "B", "x": 0.381, "y": 0}]}, "mark": {"type": "point", "shape": "circle", "size": 23716, "filled": false, "stroke": "#3A78BE", "strokeWidth": 1.5, "opacity": 1}},
    {"data": {"values": [{"x": -0.81, "y": -0.03, "n": "368"}, {"x": 0.18, "y": -0.03, "n": "768"}, {"x": 1.12, "y": -0.03, "n": "174"}]},
     "mark": {"type": "text", "fontSize": 15, "color": "#1A1A1A", "baseline": "middle"}, "encoding": {"text": {"field": "n"}}},
    {"data": {"values": [{"x": -1.345, "y": 1.0, "lab": "GO terms of genes\nwith alternative\nsplicing in\nthe A subgenome"}]},
     "mark": {"type": "text", "fontSize": 9.8, "color": "#E02A2F", "baseline": "middle", "lineBreak": "\n", "lineHeight": 11}, "encoding": {"text": {"field": "lab"}}},
    {"data": {"values": [{"x": 1.51, "y": 1.0, "lab": "GO terms of genes\nwith alternative\nsplicing in\nthe B subgenome"}]},
     "mark": {"type": "text", "fontSize": 9.8, "color": "#3A7DC0", "baseline": "middle", "lineBreak": "\n", "lineHeight": 11}, "encoding": {"text": {"field": "lab"}}}
  ]
}
]
}
]
}
